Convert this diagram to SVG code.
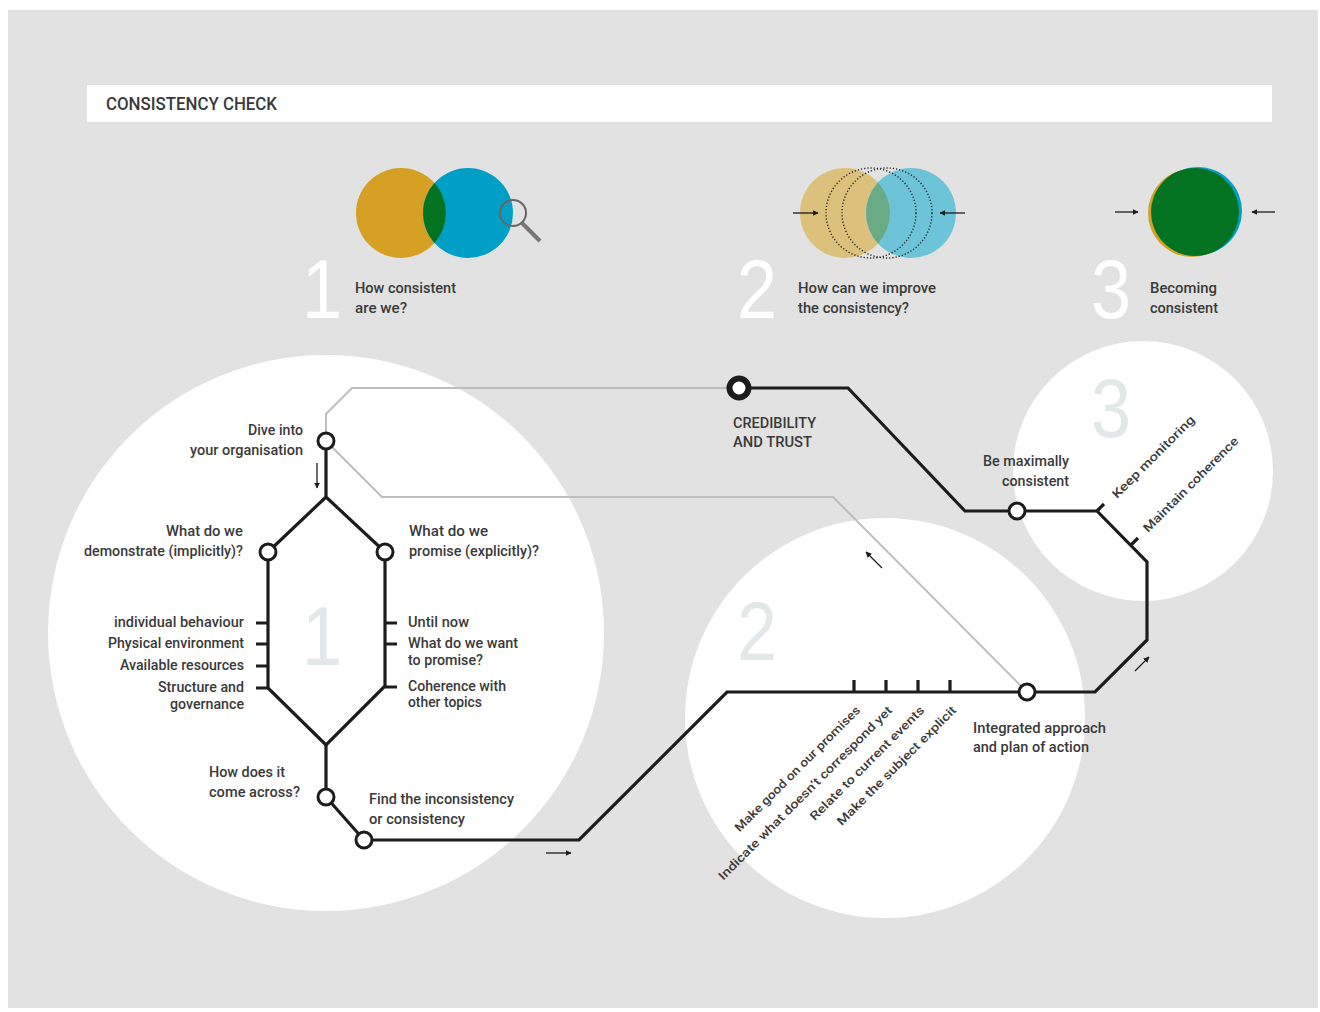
<svg xmlns="http://www.w3.org/2000/svg" width="1320" height="1012" viewBox="0 0 1320 1012">
<defs>
<style>
.t{font-family:Roboto,"Liberation Sans",sans-serif;font-size:14px;fill:#3a3a3a;font-weight:500}
.r{font-family:Roboto,"Liberation Sans",sans-serif;font-size:12px;fill:#3a3a3a;font-weight:500}
.big{font-family:"Liberation Sans",Arial,sans-serif;font-size:84px;text-anchor:middle}
.line{fill:none;stroke:#1c1c1c;stroke-width:3.2;stroke-linejoin:miter}
.grey{fill:none;stroke:#bdbfbe;stroke-width:2}
.node{fill:#fff;stroke:#1c1c1c;stroke-width:3}
.arr{stroke:#1c1c1c;stroke-width:1.3;fill:none;marker-end:url(#ah)}
.dot{fill:none;stroke:#222;stroke-width:1.4;stroke-dasharray:1.2 2}
</style>
<marker id="ah" viewBox="0 0 10 10" refX="9" refY="5" markerWidth="6" markerHeight="6" orient="auto" markerUnits="userSpaceOnUse">
<path d="M0,0 L10,5 L0,10 z" fill="#1c1c1c"/>
</marker>
</defs>
<rect x="0" y="0" width="1320" height="1012" fill="#fff"/>
<rect x="8" y="10" width="1310" height="998" fill="#e1e2e1"/>

<g id="header">
<rect x="87" y="85" width="1185" height="37" fill="#fff"/>
<text x="106" y="110" class="t" style="font-size:18px" textLength="171" lengthAdjust="spacingAndGlyphs">CONSISTENCY CHECK</text>
</g>

<!-- big background circles -->
<circle cx="326" cy="633" r="278" fill="#fff"/>
<circle cx="885" cy="718" r="200" fill="#fff"/>
<circle cx="1143" cy="471" r="130" fill="#fff"/>
<text x="322" y="665" class="big" fill="#e2e7e7" textLength="40" lengthAdjust="spacingAndGlyphs">1</text>
<text x="757" y="660" class="big" fill="#e2e7e7" textLength="40" lengthAdjust="spacingAndGlyphs">2</text>
<text x="1111" y="437" class="big" fill="#e2e7e7" textLength="40" lengthAdjust="spacingAndGlyphs">3</text>

<g id="step1">
<circle cx="401" cy="213" r="45" fill="#d5a024"/>
<circle cx="468" cy="213" r="45" fill="#00a0c6"/>
<path d="M434.5,183 A45,45 0 0 1 434.5,243 A45,45 0 0 1 434.5,183 z" fill="#037321"/>
<circle cx="513" cy="213" r="13" fill="none" stroke="#666" stroke-width="2"/>
<line x1="522" y1="223" x2="540" y2="241" stroke="#777" stroke-width="4"/>
<text x="322" y="318" class="big" fill="#fff" textLength="40" lengthAdjust="spacingAndGlyphs">1</text>
<text x="355" y="293" class="t" textLength="101" lengthAdjust="spacingAndGlyphs">How consistent</text>
<text x="355" y="313" class="t" textLength="52" lengthAdjust="spacingAndGlyphs">are we?</text>
</g>

<g id="step2">
<circle cx="845" cy="213" r="45" fill="#dcc17c"/>
<circle cx="911" cy="213" r="45" fill="#6dc4d8"/>
<path d="M878,182.5 A45,45 0 0 1 878,243.5 A45,45 0 0 1 878,182.5 z" fill="#6aaa85"/>
<circle cx="871" cy="213" r="45" class="dot"/>
<circle cx="887" cy="213" r="45" class="dot"/>
<line x1="793" y1="213" x2="818" y2="213" class="arr"/>
<line x1="965" y1="213" x2="940" y2="213" class="arr"/>
<text x="757" y="318" class="big" fill="#fff" textLength="40" lengthAdjust="spacingAndGlyphs">2</text>
<text x="798" y="293" class="t" textLength="138" lengthAdjust="spacingAndGlyphs">How can we improve</text>
<text x="798" y="313" class="t" textLength="111" lengthAdjust="spacingAndGlyphs">the consistency?</text>
</g>

<g id="step3">
<circle cx="1192" cy="213" r="44" fill="#d5a024"/>
<circle cx="1198" cy="211" r="44" fill="#00a0c6"/>
<circle cx="1195" cy="212" r="44" fill="#037321"/>
<line x1="1115" y1="212" x2="1138" y2="212" class="arr"/>
<line x1="1275" y1="212" x2="1252" y2="212" class="arr"/>
<text x="1111" y="318" class="big" fill="#fff" textLength="40" lengthAdjust="spacingAndGlyphs">3</text>
<text x="1150" y="293" class="t" textLength="67" lengthAdjust="spacingAndGlyphs">Becoming</text>
<text x="1150" y="313" class="t" textLength="68" lengthAdjust="spacingAndGlyphs">consistent</text>
</g>

<g id="connectors">
<path class="grey" d="M739,388 H352 L326,414 V433"/>
<path class="grey" d="M331,446 L382,497 H833 L1027,692"/>
<path class="line" d="M326,449 V497 L268,552 V688 L326,745 L385,686 V552 L326,497"/>
<path class="line" d="M326,745 V797 L364,840 H579 L727,692 H1095 L1147,640 V562 L1097,511 H965 L848,388 H739"/>
<path class="line" d="M256,623 H268 M256,644 H268 M256,666 H268 M256,688 H268"/>
<path class="line" d="M385,623 H397 M385,644 H397 M385,687 H397"/>
<path class="line" d="M854,692 V680 M886,692 V680 M918,692 V680 M950,692 V680"/>
<path class="line" d="M1097,511 L1104,504 M1131,545 L1138,538" stroke-width="2.5"/>
<line x1="317" y1="463" x2="317" y2="488" class="arr"/>
<line x1="546" y1="853" x2="571" y2="853" class="arr"/>
<line x1="882" y1="568" x2="866" y2="552" class="arr"/>
<line x1="1135" y1="671" x2="1149" y2="657" class="arr"/>
</g>

<g id="node-dive"><circle cx="326" cy="441" r="8" class="node"/>
<text x="303" y="435" class="t" text-anchor="end" textLength="55" lengthAdjust="spacingAndGlyphs">Dive into</text>
<text x="303" y="455" class="t" text-anchor="end" textLength="113" lengthAdjust="spacingAndGlyphs">your organisation</text></g>

<g id="node-demonstrate"><circle cx="268" cy="552" r="8" class="node"/>
<text x="243" y="536" class="t" text-anchor="end" textLength="77" lengthAdjust="spacingAndGlyphs">What do we</text>
<text x="243" y="556" class="t" text-anchor="end" textLength="159" lengthAdjust="spacingAndGlyphs">demonstrate (implicitly)?</text>
<text x="244" y="627" class="t" text-anchor="end" textLength="130" lengthAdjust="spacingAndGlyphs">individual behaviour</text>
<text x="244" y="648" class="t" text-anchor="end" textLength="136" lengthAdjust="spacingAndGlyphs">Physical environment</text>
<text x="244" y="670" class="t" text-anchor="end" textLength="124" lengthAdjust="spacingAndGlyphs">Available resources</text>
<text x="244" y="692" class="t" text-anchor="end" textLength="86" lengthAdjust="spacingAndGlyphs">Structure and</text>
<text x="244" y="709" class="t" text-anchor="end" textLength="74" lengthAdjust="spacingAndGlyphs">governance</text></g>

<g id="node-promise"><circle cx="385" cy="552" r="8" class="node"/>
<text x="409" y="536" class="t" textLength="79" lengthAdjust="spacingAndGlyphs">What do we</text>
<text x="409" y="556" class="t" textLength="130" lengthAdjust="spacingAndGlyphs">promise (explicitly)?</text>
<text x="408" y="627" class="t" textLength="61" lengthAdjust="spacingAndGlyphs">Until now</text>
<text x="408" y="648" class="t" textLength="110" lengthAdjust="spacingAndGlyphs">What do we want</text>
<text x="408" y="665" class="t" textLength="75" lengthAdjust="spacingAndGlyphs">to promise?</text>
<text x="408" y="691" class="t" textLength="98" lengthAdjust="spacingAndGlyphs">Coherence with</text>
<text x="408" y="707" class="t" textLength="74" lengthAdjust="spacingAndGlyphs">other topics</text></g>

<g id="node-comeacross"><circle cx="326" cy="797" r="8" class="node"/>
<text x="209" y="777" class="t" textLength="76" lengthAdjust="spacingAndGlyphs">How does it</text>
<text x="209" y="797" class="t" textLength="91" lengthAdjust="spacingAndGlyphs">come across?</text></g>

<g id="node-find"><circle cx="364" cy="840" r="8" class="node"/>
<text x="369" y="804" class="t" textLength="145" lengthAdjust="spacingAndGlyphs">Find the inconsistency</text>
<text x="369" y="824" class="t" textLength="96" lengthAdjust="spacingAndGlyphs">or consistency</text></g>

<g id="node-integrated"><circle cx="1027" cy="692" r="8" class="node"/>
<text x="973" y="733" class="t" textLength="133" lengthAdjust="spacingAndGlyphs">Integrated approach</text>
<text x="973" y="752" class="t" textLength="116" lengthAdjust="spacingAndGlyphs">and plan of action</text>
<text class="r" text-anchor="end" transform="translate(861,711) rotate(-45)" textLength="172" lengthAdjust="spacingAndGlyphs">Make good on our promises</text>
<text class="r" text-anchor="end" transform="translate(893,711) rotate(-45)" textLength="240" lengthAdjust="spacingAndGlyphs">Indicate what doesn’t correspond yet</text>
<text class="r" text-anchor="end" transform="translate(925,711) rotate(-45)" textLength="156" lengthAdjust="spacingAndGlyphs">Relate to current events</text>
<text class="r" text-anchor="end" transform="translate(957,711) rotate(-45)" textLength="163" lengthAdjust="spacingAndGlyphs">Make the subject explicit</text></g>

<g id="node-maximal"><circle cx="1017" cy="511" r="8" class="node"/>
<text x="1069" y="466" class="t" text-anchor="end" textLength="86" lengthAdjust="spacingAndGlyphs">Be maximally</text>
<text x="1069" y="486" class="t" text-anchor="end" textLength="67" lengthAdjust="spacingAndGlyphs">consistent</text>
<text class="r" transform="translate(1117,499) rotate(-45)" textLength="111" lengthAdjust="spacingAndGlyphs">Keep monitoring</text>
<text class="r" transform="translate(1148,533) rotate(-45)" textLength="129" lengthAdjust="spacingAndGlyphs">Maintain coherence</text></g>

<g id="node-credibility"><circle cx="739" cy="388" r="9.5" fill="#fff" stroke="#1c1c1c" stroke-width="6"/>
<text x="733" y="428" class="t" textLength="83" lengthAdjust="spacingAndGlyphs">CREDIBILITY</text>
<text x="733" y="447" class="t" textLength="79" lengthAdjust="spacingAndGlyphs">AND TRUST</text></g>
</svg>
